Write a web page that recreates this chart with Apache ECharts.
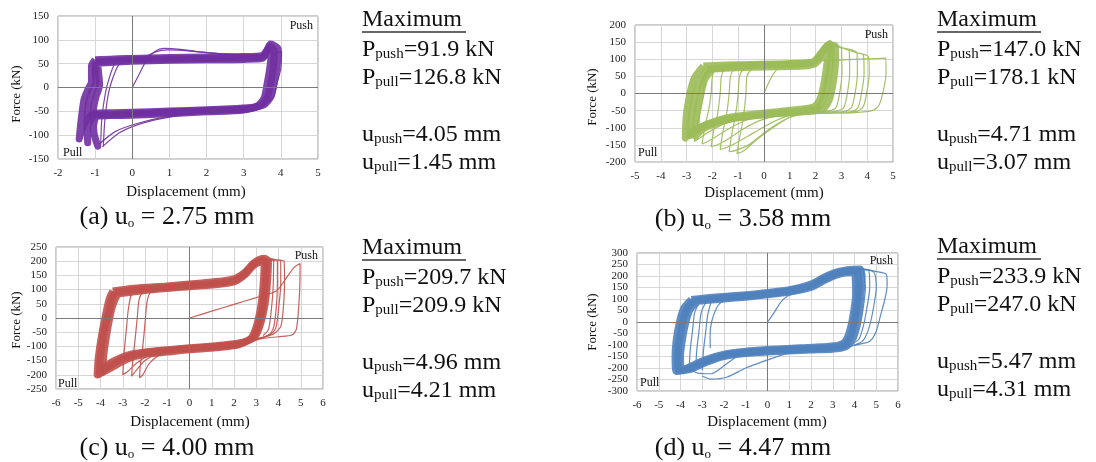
<!DOCTYPE html>
<html>
<head>
<meta charset="utf-8">
<script src="https://cdn.jsdelivr.net/npm/echarts@6/dist/echarts.min.js"></script>
<style>
html,body{margin:0;padding:0;background:#fff}
#main{width:1096px;height:462px}
</style>
</head>
<body>
<div id="main"></div>
<script>
// ---- data (displacement mm, force kN) ----
var captions = ['(a) u', '(b) u', '(c) u', '(d) u'];
var uo = ['2.75', '3.58', '4.00', '4.47'];
var pPush = ['91.9', '147.0', '209.7', '233.9'];
var pPull = ['126.8', '178.1', '209.9', '247.0'];
var uPush = ['4.05', '4.71', '4.96', '5.47'];
var uPull = ['1.45', '3.07', '4.21', '4.31'];

var xMin = [-2, -5, -6, -6];
var xMax = [5, 5, 6, 6];
var yMin = [-150, -200, -250, -300];
var yMax = [150, 200, 250, 300];

// (a) dense steady cycles
var bandA = [
  [[-1.0,58],[-0.5,60],[0,61],[1,63],[2,64],[3,65],[3.5,67],[3.62,78],[3.72,91],[3.93,80],[3.9,45],[3.82,10],[3.74,-18],[3.55,-36],[3.2,-42],[2.5,-45],[1.5,-48],[0.5,-51],[-0.5,-53],[-1.05,-55],[-1.3,-78],[-1.43,-108],[-1.38,-70],[-1.3,-25],[-1.2,-5],[-1.1,12],[-1.1,45],[-1.0,58]],
  [[-0.98,54],[-0.5,56],[0,58],[1,60],[2,61],[3,62],[3.5,64],[3.62,74],[3.7,86],[3.82,76],[3.8,42],[3.72,6],[3.64,-20],[3.46,-37],[3.1,-45],[2.2,-48],[1.2,-51],[0,-55],[-0.6,-57],[-1.0,-58],[-1.2,-85],[-1.2,-116],[-1.22,-80],[-1.18,-35],[-1.08,-8],[-0.98,10],[-1.0,42],[-0.98,54]],
  [[-0.95,51],[-0.5,53],[0,55],[1,57],[2,58],[3,59],[3.5,61],[3.6,70],[3.66,82],[3.74,72],[3.7,40],[3.62,4],[3.55,-22],[3.38,-38],[3.0,-47],[2.0,-51],[1.0,-55],[0,-58],[-0.6,-59],[-0.95,-60],[-1.05,-88],[-0.93,-123],[-1.03,-95],[-1.05,-50],[-0.98,-20],[-0.88,5],[-0.92,40],[-0.95,51]]
];
var linesA = [
  [[0,0],[0.2,30],[0.38,57],[0.6,75],[0.85,82],[1.3,80],[2,73],[3,68],[3.6,67]],
  [[0.3,62],[0.6,74],[0.95,79],[1.5,77],[2.3,71],[3.2,67]],
  [[-0.78,-124],[-0.74,-70],[-0.64,-12],[-0.51,23],[-0.37,47],[-0.15,61]],
  [[-0.85,-120],[-0.82,-65],[-0.72,-10],[-0.6,25],[-0.48,48],[-0.25,60]],
  [[-0.8,-124],[-0.37,-96],[0,-82],[0.61,-68],[1.0,-62],[1.8,-53],[2.5,-48]],
  [[-0.88,-118],[-0.45,-92],[0.2,-74],[1.0,-60],[1.8,-52]],
  [[3.8,70],[4.02,76],[4.0,40],[3.9,10],[3.8,-20],[3.6,-35]]
];

// (b)
var bandB = [
  [[-2.35,80],[-1.5,83],[-0.5,85],[0.5,86],[1.5,88],[2.0,96],[2.3,125],[2.55,146],[2.6,110],[2.5,50],[2.35,-5],[2.1,-40],[1.6,-50],[0.5,-58],[-0.5,-66],[-1.5,-76],[-2.3,-93],[-2.8,-113],[-3.05,-130],[-3.02,-70],[-2.9,-10],[-2.7,45],[-2.35,80]],
  [[-2.2,70],[-1.5,74],[-0.5,77],[0.5,78],[1.5,80],[2.0,88],[2.3,115],[2.5,135],[2.45,95],[2.35,40],[2.2,-10],[1.95,-38],[1.4,-46],[0.4,-54],[-0.6,-62],[-1.5,-72],[-2.2,-90],[-2.65,-108],[-2.85,-122],[-2.8,-60],[-2.65,0],[-2.45,40],[-2.2,70]],
  [[-2.0,72],[-1,80],[0,84],[1,86],[1.9,92],[2.25,122],[2.5,142],[2.75,140],[2.78,100],[2.7,40],[2.55,-15],[2.3,-45],[1.8,-52],[0.8,-57],[-0.3,-64],[-1.2,-73],[-1.9,-88],[-2.4,-105],[-2.65,-125],[-2.6,-60],[-2.45,-5],[-2.3,40],[-2.0,72]]
];
var linesB = [
  [[0,0],[0.37,58],[0.88,93],[1.5,97],[2.2,96],[3.0,98],[4.0,101],[4.72,103],[4.73,60],[4.63,10],[4.45,-35],[4.2,-50],[3.5,-56],[2.5,-58],[1.6,-60],[1.0,-70],[0.4,-97],[-0.3,-136],[-0.8,-168],[-1.05,-176],[-0.95,-130],[-0.8,-70],[-0.7,0],[-0.66,50],[-0.5,70],[-0.2,84],[0.5,92],[1.5,94],[2.1,100],[2.35,130],[2.55,145],[3.0,134],[3.5,121],[4.05,107],
   [4.08,60],[4.0,10],[3.85,-38],[3.6,-52],[3,-55],[2,-57],[1.2,-63],[0.6,-85],[0,-115],[-0.6,-150],[-1.1,-166],[-1.35,-170],[-1.25,-120],[-1.1,-60],[-1.0,0],[-0.95,50],[-0.8,70],[-0.4,82],[0.5,88],[1.5,90],[2.05,98],[2.35,130],[2.58,146],[3.0,135],[3.5,121],[3.85,112],
   [3.88,60],[3.8,10],[3.65,-40],[3.4,-53],[2.8,-56],[1.8,-58],[1.0,-64],[0.3,-85],[-0.4,-115],[-1.1,-145],[-1.5,-159],[-1.7,-163],[-1.6,-115],[-1.45,-60],[-1.35,0],[-1.3,50],[-1.15,70],[-0.7,80],[0.3,86],[1.5,88],[2.05,97],[2.35,128],[2.55,144],[3.0,134],[3.6,119],
   [3.62,60],[3.55,10],[3.4,-40],[3.15,-52],[2.6,-55],[1.6,-58],[0.6,-64],[-0.2,-80],[-0.9,-108],[-1.5,-138],[-1.85,-151],[-2.05,-155],[-1.95,-110],[-1.8,-60],[-1.7,0],[-1.65,50],[-1.5,72],[-1.0,80],[0,85],[1.4,87],[2.0,95],[2.3,125],[2.52,143],[3.0,133],[3.3,126],
   [3.32,60],[3.25,10],[3.1,-40],[2.85,-51],[2.2,-54],[1.2,-58],[0.2,-64],[-0.6,-76],[-1.3,-100],[-1.9,-128],[-2.25,-143],[-2.4,-147],[-2.3,-100],[-2.15,-50],[-2.05,0],[-2.0,50],[-1.85,72],[-1.3,80],[-0.2,84],[1.2,86],[1.95,93],[2.28,122],[2.5,142],[2.8,138],[3.0,134],
   [3.02,60],[2.95,10],[2.8,-40],[2.55,-50],[2.0,-53],[1.0,-57],[0,-63],[-0.9,-74],[-1.6,-90],[-2.2,-115],[-2.55,-133],[-2.7,-140],[-2.6,-95],[-2.45,-45],[-2.35,0],[-2.3,50],[-2.15,72],[-1.6,80],[-0.5,83],[1,86],[1.9,92]]
];

// (c)
var bandC = [
  [[-3.45,95],[-2.5,105],[-1,113],[0,120],[1,127],[2,138],[2.5,162],[2.9,195],[3.35,210],[3.55,200],[3.5,120],[3.4,50],[3.2,-20],[2.95,-65],[2.4,-85],[1.5,-95],[0.5,-102],[-0.5,-108],[-1.5,-115],[-2.5,-125],[-3.1,-140],[-3.7,-165],[-4.15,-200],[-4.1,-140],[-3.95,-60],[-3.75,20],[-3.6,70],[-3.45,95]],
  [[-3.2,85],[-2,97],[-1,104],[0,110],[1,116],[2,127],[2.5,152],[2.85,182],[3.2,196],[3.35,186],[3.3,110],[3.2,40],[3.0,-30],[2.75,-72],[2.2,-95],[1.2,-105],[0,-112],[-1,-120],[-2,-128],[-2.8,-145],[-3.5,-175],[-3.9,-192],[-3.85,-130],[-3.7,-50],[-3.5,30],[-3.35,65],[-3.2,85]],
  [[-3.35,90],[-2.2,101],[-1,108],[0,115],[1,121],[2,132],[2.5,157],[2.88,190],[3.3,204],[3.45,194],[3.4,115],[3.3,45],[3.1,-25],[2.85,-68],[2.3,-90],[1.3,-100],[0,-107],[-1,-114],[-2,-122],[-2.9,-140],[-3.6,-170],[-4.05,-198],[-4.0,-135],[-3.85,-55],[-3.62,25],[-3.48,68],[-3.35,90]]
];
var linesC = [
  [[0,0],[1,24],[2,48],[3,72],[3.9,95],[4.3,135],[4.7,178],[4.97,192],[4.96,120],[4.9,30],[4.8,-40],[4.6,-60],[4.0,-66],[3.3,-72],[2.5,-88],[1.5,-98],[0.5,-104],[-0.5,-112],[-1.3,-128],[-1.8,-160],[-2.1,-200],[-2.25,-210],[-2.2,-160],[-2.1,-100],[-2.0,-20],[-1.9,60],[-1.7,95],[-1,108],[0,116],[1,122],[2,133],[2.6,165],[3.2,200],[3.8,205],[4.25,200],
   [4.27,120],[4.2,20],[4.1,-30],[3.8,-55],[3.2,-70],[2.5,-85],[1.5,-97],[0.5,-104],[-0.5,-112],[-1.4,-125],[-2.0,-150],[-2.4,-185],[-2.6,-205],[-2.55,-150],[-2.45,-80],[-2.35,0],[-2.25,70],[-2.0,98],[-1,108],[0,116],[1,123],[2,134],[2.6,170],[3.2,203],[3.7,208],[3.95,200],
   [3.95,120],[3.88,20],[3.75,-40],[3.5,-62],[3,-75],[2,-92],[1,-100],[0,-108],[-1,-118],[-1.8,-132],[-2.4,-160],[-2.8,-190],[-3.0,-200],[-2.95,-130],[-2.85,-50],[-2.75,30],[-2.6,85],[-2.3,100],[-1,110]],
  [[3.4,205],[4.1,204],[4.1,120],[4.0,30],[3.88,-35],[3.6,-60],[3.0,-74]],
  [[3.3,206],[3.78,203],[3.76,110],[3.68,30],[3.55,-40],[3.3,-62]]
];

// (d)
var bandD = [
  [[-3.5,98],[-2.5,108],[-1,118],[0,128],[1,140],[2,165],[2.6,195],[3.2,218],[3.8,228],[4.25,230],[4.35,200],[4.3,120],[4.2,40],[4.05,-30],[3.85,-85],[3.55,-110],[3.0,-118],[2,-122],[1,-126],[0,-130],[-1,-137],[-2,-150],[-2.8,-175],[-3.5,-205],[-4.2,-215],[-4.25,-150],[-4.2,-80],[-4.05,0],[-3.85,60],[-3.5,98]],
  [[-3.2,90],[-2,100],[-1,108],[0,118],[1,130],[2,150],[2.6,180],[3.2,205],[3.8,215],[4.0,212],[4.05,120],[3.95,40],[3.8,-30],[3.6,-80],[3.3,-100],[2.5,-108],[1.5,-112],[0,-120],[-1,-127],[-2,-140],[-2.9,-165],[-3.6,-195],[-3.95,-208],[-4.0,-150],[-3.9,-70],[-3.75,0],[-3.55,55],[-3.2,90]],
  [[-3.35,94],[-2.2,104],[-1,113],[0,123],[1,135],[2,158],[2.6,188],[3.2,212],[3.8,222],[4.15,222],[4.2,160],[4.12,80],[4.0,5],[3.85,-55],[3.6,-95],[3.2,-110],[2.2,-116],[1,-121],[0,-125],[-1,-132],[-2,-145],[-2.85,-170],[-3.55,-200],[-4.1,-212],[-4.12,-150],[-4.05,-75],[-3.9,0],[-3.7,58],[-3.35,94]]
];
var linesD = [
  [[0,0],[0.3,40],[0.58,82],[0.89,111],[1.3,125],[2,148]],
  [[2,150],[2.8,200],[3.6,225],[4.3,232],[4.86,222],[5.47,207],[5.5,160],[5.4,100],[5.2,30],[5.0,-40],[4.7,-84],[4.3,-95],[3.8,-105],[3,-115]],
  [[3.5,225],[4.5,228],[4.9,215],[5.0,150],[4.85,50],[4.65,-30],[4.4,-80],[4.0,-100],[3.5,-108]],
  [[4.2,228],[4.65,225],[4.7,150],[4.55,50],[4.4,-20],[4.2,-75],[3.9,-95]],
  [[4.4,226],[4.5,150],[4.4,60],[4.25,-20],[4.05,-80]],
  [[1.5,-118],[0.28,-156],[-1.0,-200],[-1.87,-240],[-2.63,-248],[-3.0,-235]],
  [[-2.63,-113],[-2.64,-60],[-2.57,1],[-2.26,74],[-1.88,96],[-1,112],[0.11,130]],
  [[-1.2,-135],[-2.0,-190],[-2.6,-225],[-3.2,-222],[-3.5,-210]],
  [[-3.6,-200],[-3.55,-120],[-3.45,-40],[-3.35,40],[-3.1,90]],
  [[-3.3,-205],[-3.25,-120],[-3.15,-40],[-3.05,40],[-2.8,92]],
  [[-3.0,-210],[-2.95,-130],[-2.85,-50],[-2.75,30],[-2.6,85]]
];

var bands = [bandA, bandB, bandC, bandD];
var thin = [linesA, linesB, linesC, linesD];
var colors = ['#7030A0', '#9BBB59', '#C0504D', '#4F81BD'];

// ---- layout ----
var grids = [
  {left: 58, top: 16, width: 260, height: 143},
  {left: 635, top: 25, width: 258, height: 137},
  {left: 56, top: 247, width: 267, height: 142},
  {left: 637, top: 253, width: 261, height: 138}
];
var serif = '"Liberation Serif", "Times New Roman", serif';

var myChart = echarts.init(document.getElementById('main'));

var xAxes = [], yAxes = [], series = [], graphics = [];
grids.forEach(function (g, i) {
  g.show = true;
  g.borderColor = '#9a9a9a';
  g.borderWidth = 1;
  g.backgroundColor = '#fff';
  xAxes.push({
    type: 'value', gridIndex: i, min: xMin[i], max: xMax[i], interval: 1,
    axisLine: {show: false}, axisTick: {show: false},
    axisLabel: {fontFamily: serif, fontSize: 11, color: '#222', margin: 9},
    splitLine: {lineStyle: {color: '#d6d6d6', width: 1}}
  });
  yAxes.push({
    type: 'value', gridIndex: i, min: yMin[i], max: yMax[i], interval: 50,
    axisLine: {show: false}, axisTick: {show: false},
    axisLabel: {fontFamily: serif, fontSize: 11, color: '#222', margin: 9},
    splitLine: {lineStyle: {color: '#d6d6d6', width: 1}}
  });
  // zero lines
  series.push({
    type: 'line', xAxisIndex: i, yAxisIndex: i, data: [], silent: true, z: 1,
    markLine: {
      silent: true, symbol: 'none', animation: false, label: {show: false},
      lineStyle: {color: '#7a7a7a', type: 'solid', width: 1},
      data: [{xAxis: 0}, {yAxis: 0}]
    }
  });
  thin[i].forEach(function (pts) {
    series.push({
      type: 'line', xAxisIndex: i, yAxisIndex: i, data: pts, showSymbol: false,
      smooth: 0.25, silent: true, z: 2,
      lineStyle: {color: colors[i], width: 1.2, opacity: 0.9}
    });
  });
  bands[i].forEach(function (pts) {
    series.push({
      type: 'line', xAxisIndex: i, yAxisIndex: i, data: pts, showSymbol: false,
      smooth: 0.25, silent: true, z: 3,
      lineStyle: {color: colors[i], width: 7, opacity: 0.9, join: 'round'}
    });
  });
});

// texts around the plots
var capPos = [[167, 216], [743, 218], [167, 447], [743, 447]];
var dispPos = [[186, 192], [764, 193], [190, 422], [767, 422]];
var forcePos = [[17, 94], [593, 97], [17, 320], [593, 322]];
var pushPos = [[313, 26], [888, 35], [318, 256], [893, 261]];
var pullPos = [[63, 153], [638, 153], [58, 384], [640, 383]];
var statPos = [[362, 28], [937, 28], [362, 256], [937, 255]];

var small = {fontFamily: serif, fontSize: 15, lineHeight: 4, verticalAlign: 'bottom', fill: '#111'};
var main = {fontFamily: serif, fontSize: 24, lineHeight: 26, verticalAlign: 'bottom', fill: '#111'};

for (var i = 0; i < 4; i++) {
  graphics.push({
    type: 'text', x: capPos[i][0], y: capPos[i][1], silent: true,
    style: {
      text: '{m|' + captions[i] + '}{s|o}{m| = ' + uo[i] + ' mm}',
      align: 'center', verticalAlign: 'middle',
      rich: {
        m: {fontFamily: serif, fontSize: 26, lineHeight: 28, verticalAlign: 'bottom', fill: '#111'},
        s: {fontFamily: serif, fontSize: 13, lineHeight: 6, verticalAlign: 'bottom', fill: '#111'}
      }
    }
  });
  graphics.push({
    type: 'text', x: dispPos[i][0], y: dispPos[i][1], silent: true,
    style: {text: 'Displacement (mm)', font: '15px ' + serif, fill: '#111', align: 'center', verticalAlign: 'middle'}
  });
  graphics.push({
    type: 'text', x: forcePos[i][0], y: forcePos[i][1], rotation: Math.PI / 2, silent: true,
    style: {text: 'Force (kN)', font: '13px ' + serif, fill: '#111', align: 'center', verticalAlign: 'middle'}
  });
  graphics.push({
    type: 'text', x: pushPos[i][0], y: pushPos[i][1], silent: true, z: 10,
    style: {text: 'Push', font: '12px ' + serif, fill: '#111', align: 'right', verticalAlign: 'middle'}
  });
  graphics.push({
    type: 'text', x: pullPos[i][0], y: pullPos[i][1], silent: true, z: 10,
    style: {text: 'Pull', font: '12px ' + serif, fill: '#111', align: 'left', verticalAlign: 'middle'}
  });
  var sx = statPos[i][0], sy = statPos[i][1];
  graphics.push({
    type: 'text', x: sx, y: sy - 8, silent: true,
    style: {text: 'Maximum', font: '24px ' + serif, fill: '#111', align: 'left', verticalAlign: 'middle'}
  });
  graphics.push({
    type: 'line', silent: true,
    shape: {x1: sx, y1: sy + 4, x2: sx + 104, y2: sy + 4},
    style: {stroke: '#333', lineWidth: 1.5}
  });
  var lines = [
    ['P', 'push', '=' + pPush[i] + ' kN', 29],
    ['P', 'pull', '=' + pPull[i] + ' kN', 57],
    ['u', 'push', '=' + uPush[i] + ' mm', 114],
    ['u', 'pull', '=' + uPull[i] + ' mm', 142]
  ];
  lines.forEach(function (l) {
    graphics.push({
      type: 'text', x: sx, y: sy + l[3] - 8, silent: true,
      style: {
        text: '{m|' + l[0] + '}{s|' + l[1] + '}{m|' + l[2] + '}',
        align: 'left', verticalAlign: 'middle',
        rich: {m: main, s: small}
      }
    });
  });
}

var option = {
  backgroundColor: '#fff',
  animation: false,
  grid: grids,
  xAxis: xAxes,
  yAxis: yAxes,
  series: series,
  graphic: graphics
};
myChart.setOption(option);
</script>
</body>
</html>
